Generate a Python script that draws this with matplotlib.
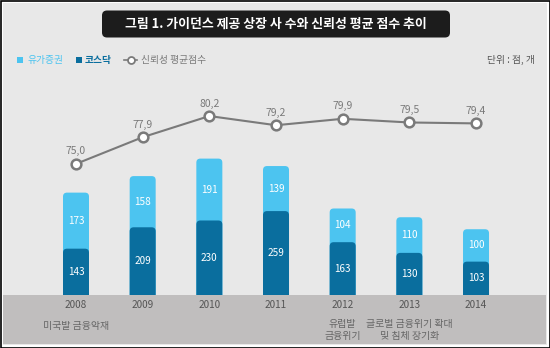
import matplotlib.pyplot as plt
from matplotlib.patches import Rectangle, FancyBboxPatch
from matplotlib.lines import Line2D

plt.rcParams['font.family'] = ['Noto Sans CJK KR', 'DejaVu Sans']

years = ['2008', '2009', '2010', '2011', '2012', '2013', '2014']
kospi = [173, 158, 191, 139, 104, 110, 100]     # 유가증권
kosdaq = [143, 209, 230, 259, 163, 130, 103]    # 코스닥
score = [75.0, 77.9, 80.2, 79.2, 79.9, 79.5, 79.4]
score_labels = ['75,0', '77,9', '80,2', '79,2', '79,9', '79,5', '79,4']
events = {0: '미국발 금융악재', 4: '유럽발\n금융위기', 5: '글로벌 금융위기 확대\n및 침체 장기화'}

LIGHT = '#4cc4f0'
DARK = '#0a6e9e'
GREY = '#7a7a7a'
W, H = 550, 348

fig = plt.figure(figsize=(5.5, 3.48), dpi=100)
fig.patch.set_facecolor('white')


def fx(x):
    return x / W


def fy(y):
    return 1 - y / H


# frame, background and bottom band
fig.add_artist(Rectangle((fx(0.5), fy(347.5)), fx(549), 346.5 / H, transform=fig.transFigure,
                         fc='white', ec='black', lw=1.2, zorder=-3))
fig.add_artist(Rectangle((fx(3), fy(345)), fx(544), 342 / H, transform=fig.transFigure,
                         fc='#e8e8e8', ec='none', zorder=-2))
fig.add_artist(Rectangle((fx(3), fy(344)), fx(543), 49 / H, transform=fig.transFigure,
                         fc='#c0bebe', ec='none', zorder=-1))

# title box
fig.add_artist(FancyBboxPatch((fx(102), fy(37.5)), fx(348), 27 / H,
                              boxstyle='round,pad=0,rounding_size=%f' % fx(5),
                              mutation_aspect=W / H, transform=fig.transFigure,
                              fc='#1c1c1c', ec='none'))
fig.text(fx(276), fy(24), '그림 1. 가이던스 제공 상장 사 수와 신뢰성 평균 점수 추이',
         color='white', fontsize=9.3, fontweight='bold', ha='center', va='center')

# legend
fig.add_artist(Rectangle((fx(17.5), fy(62.5)), fx(5.5), 5.5 / H, transform=fig.transFigure,
                         fc=LIGHT, ec='none'))
fig.text(fx(27), fy(59.5), '유가증권', color=LIGHT, fontsize=7, va='center')
fig.add_artist(Rectangle((fx(76), fy(62.5)), fx(5.5), 5.5 / H, transform=fig.transFigure,
                         fc=DARK, ec='none'))
fig.text(fx(85), fy(59.5), '코스닥', color=DARK, fontsize=7, fontweight='bold', va='center')
fig.add_artist(Line2D([fx(124), fx(137)], [fy(59.5), fy(59.5)], transform=fig.transFigure,
                      color=GREY, lw=1.2))
fig.add_artist(Line2D([fx(130.5)], [fy(59.5)], transform=fig.transFigure,
                      marker='o', ms=5, mfc='white', mec=GREY, mew=1.3, lw=0))
fig.text(fx(141), fy(59.5), '신뢰성 평균점수', color=GREY, fontsize=7, va='center')
fig.text(fx(535), fy(59.5), '단위 : 점, 개', color='#555555', fontsize=7, ha='right', va='center')

# bar axes: baseline at y=295 px, spanning the full width
ax = fig.add_axes([0, fy(295), 1, 235 / H])
ax.set_facecolor('none')
x = list(range(len(years)))
ax.set_xlim(-76 / 66.67, (W - 76) / 66.67)
ax.set_ylim(0, 235 / 0.324)
ax.axis('off')

totals = [a + b for a, b in zip(kospi, kosdaq)]
r = 0.06
asp = (4 / 0.324) / r
for vals, col in [(totals, LIGHT), (kosdaq, DARK)]:
    bars = ax.bar(x, vals, width=0.39, color=col)
    for b in bars:
        bx, by = b.get_x(), b.get_y()
        bw, bh = b.get_width(), b.get_height()
        b.remove()
        ax.add_patch(FancyBboxPatch((bx, by - 20), bw, bh + 20,
                                    boxstyle='round,pad=0,rounding_size=%f' % r,
                                    mutation_aspect=asp, fc=col, ec='none'))

for i in x:
    ax.text(i, kosdaq[i] + kospi[i] / 2, str(kospi[i]), color='white', fontsize=7.2,
            ha='center', va='center')
    ax.text(i, kosdaq[i] / 2, str(kosdaq[i]), color='white', fontsize=7.2,
            ha='center', va='center')

# line axes
ax2 = ax.twinx()
ax2.set_ylim(60.75, 86.29)
ax2.axis('off')
ax2.plot(x, score, color=GREY, lw=1.5, marker='o', ms=7, mfc='white', mec=GREY, mew=1.8)
for i, lab in enumerate(score_labels):
    ax2.annotate(lab, (i, score[i]), xytext=(0, 9), textcoords='offset points',
                 color=GREY, fontsize=7.5, ha='center', va='center')

# year labels and events
for i, yr in enumerate(years):
    fig.text(fx(76 + 66.67 * i), fy(305.5), yr, color='#555555', fontsize=7.2,
             ha='center', va='center')
for i, ev in events.items():
    fig.text(fx(76 + 66.67 * i), fy(330.5 if '\n' in ev else 325.5), ev, color='#666666',
             fontsize=7.2, ha='center', va='center', linespacing=1.25)

fig.savefig('out.png', dpi=100)
